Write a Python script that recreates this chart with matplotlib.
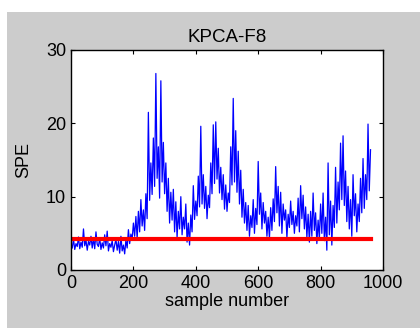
import matplotlib
matplotlib.use("Agg")
import matplotlib.pyplot as plt
import numpy as np
from matplotlib.patches import Rectangle

# SPE values, one value every 4 samples
spe = [
    3.0, 4.2, 2.8, 3.6, 3.2, 4.5, 2.9, 3.8, 3.1, 5.6,
    3.3, 4.1, 2.7, 3.9, 3.4, 4.6, 3.0, 4.3, 2.9, 5.2,
    3.5, 3.2, 4.4, 2.8, 3.7, 3.0, 4.8, 3.3, 5.3, 2.6,
    3.6, 3.1, 4.0, 2.5, 3.4, 4.2, 2.7, 3.9, 2.3, 4.6,
    2.6, 3.4, 2.2, 4.1, 3.0, 5.5, 3.6, 4.9, 4.2, 6.4,
    4.6, 7.3, 4.3, 8.0, 5.2, 9.6, 6.0, 8.2, 5.4, 10.4,
    7.0, 21.5, 9.5, 14.6, 10.3, 18.0, 11.4, 26.8, 12.5, 16.8,
    9.8, 25.8, 12.0, 17.4, 10.4, 14.6, 8.0, 12.5, 6.4, 10.6,
    6.8, 11.0, 5.2, 9.3, 4.4, 8.0, 5.6, 10.0, 4.8, 7.2,
    5.6, 9.0, 3.8, 6.4, 3.4, 7.5, 5.2, 11.5, 6.9, 9.4,
    7.4, 12.8, 8.6, 19.6, 9.0, 13.0, 8.4, 11.4, 7.0, 10.2,
    8.5, 14.6, 10.4, 19.8, 11.8, 20.2, 12.4, 16.6, 10.5, 14.0,
    9.6, 13.0, 8.3, 11.6, 8.0, 10.5, 9.2, 16.8, 11.6, 23.4,
    12.0, 19.0, 10.6, 16.2, 9.0, 13.6, 7.2, 11.0, 6.4, 9.2,
    5.4, 8.8, 4.6, 7.4, 5.8, 9.6, 5.0, 8.4, 6.2, 14.8,
    7.6, 10.5, 5.6, 9.2, 6.4, 8.0, 4.6, 7.2, 4.3, 8.5,
    5.4, 9.7, 6.6, 14.1, 7.8, 11.4, 6.0, 10.6, 5.0, 9.0,
    6.8, 8.2, 4.4, 7.6, 5.8, 9.4, 6.2, 8.0, 5.0, 7.4,
    6.0, 9.8, 5.2, 11.5, 7.0, 10.2, 5.6, 8.6, 4.4, 7.6,
    3.8, 8.0, 4.6, 10.5, 5.4, 7.8, 3.6, 6.8, 4.2, 9.0,
    5.0, 10.5, 4.0, 7.2, 2.7, 14.6, 4.8, 9.4, 3.4, 8.8,
    5.8, 14.0, 6.4, 12.0, 8.2, 17.3, 9.6, 18.3, 8.8, 13.5,
    6.6, 11.4, 5.6, 9.6, 4.6, 13.0, 7.4, 10.4, 5.2, 9.0,
    6.6, 12.5, 7.8, 15.2, 8.4, 13.0, 9.6, 19.9, 10.8, 16.4,
]
step = 4
limit = 4.2
n_samples = 960

plt.rcParams["font.family"] = ["Liberation Sans", "DejaVu Sans"]

fig = plt.figure(figsize=(4.2, 3.28), dpi=100, facecolor="white")
# grey MATLAB-style figure background (white strip top/left as in the screenshot)
fig.patches.append(Rectangle((7 / 420, 0), 1, 1 - 12 / 328, transform=fig.transFigure,
                             facecolor="#cccccc", edgecolor="none", zorder=-1))

ax = fig.add_axes([71 / 420, 58 / 328, 312 / 420, 220 / 328])
x = np.arange(1, len(spe) + 1) * step
ax.plot(x, spe, color="blue", linewidth=0.9)
ax.plot([1, n_samples], [limit, limit], color="red", linewidth=3)

ax.set_xlim(0, 1000)
ax.set_ylim(0, 30)
ax.set_xticks([0, 200, 400, 600, 800, 1000])
ax.set_yticks([0, 10, 20, 30])
ax.tick_params(direction="in", labelsize=13, length=3, top=True, right=True,
               labeltop=False, labelright=False)
for s in ax.spines.values():
    s.set_linewidth(1.0)
ax.set_title("KPCA-F8", fontsize=13.5, pad=6)
ax.set_xlabel("sample number", fontsize=13, labelpad=1)
ax.set_ylabel("SPE", fontsize=13, labelpad=10)

fig.savefig("out.png", dpi=100, facecolor=fig.get_facecolor())
